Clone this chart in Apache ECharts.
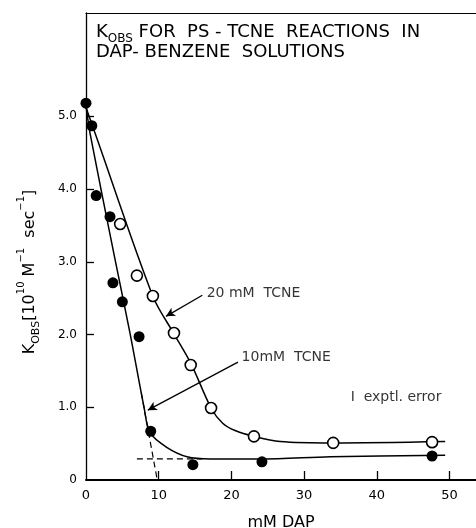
<!DOCTYPE html>
<html>
<head>
<meta charset="utf-8">
<script src="https://cdn.jsdelivr.net/npm/echarts@6/dist/echarts.min.js"></script>
<style>html,body{margin:0;padding:0;background:#fff}#c{width:476px;height:528px}</style>
</head>
<body>
<div id="c"></div>
<script>
// ---- data ----
const filled10X = [0, 0.8, 1.4, 3.3, 3.7, 5.0, 7.3, 8.9, 14.7, 24.2, 47.6];
const filled10Y = [5.18, 4.87, 3.91, 3.62, 2.71, 2.45, 1.97, 0.67, 0.21, 0.25, 0.33];
const open20X = [4.7, 7.0, 9.2, 12.1, 14.4, 17.2, 23.1, 34.0, 47.6];
const open20Y = [3.52, 2.81, 2.53, 2.02, 1.58, 0.99, 0.60, 0.51, 0.52];
const curve20X = [0, 1.24, 9.22, 12.1, 14.44, 17.2, 18.8, 20.5, 23.1, 26.7, 34, 49.4];
const curve20Y = [5.12, 4.77, 2.52, 2.01, 1.60, 0.99, 0.78, 0.68, 0.60, 0.53, 0.51, 0.53];
const curve10X = [0, 0.55, 4.0, 6.05, 7.98, 8.8, 11.1, 13.9, 17.1, 24.2, 33.6, 49.4];
const curve10Y = [5.15, 4.77, 3.03, 2.02, 1.0, 0.65, 0.45, 0.32, 0.29, 0.29, 0.32, 0.34];
const dashVX = [7.6, 9.8];
const dashVY = [1.2, 0.0];
const dashHX = [7.0, 16.0];
const dashHY = [0.29, 0.29];
const xTicks = [10, 20, 30, 40, 50];
const xLabels = [0, 10, 20, 30, 40, 50];
const yTicks = [1, 2, 3, 4, 5];
const yLabels = [0, 1, 2, 3, 4, 5];
const arrow20 = [[16.0, 2.54], [11.0, 2.25]];
const arrow10 = [[20.9, 1.62], [8.5, 0.96]];
const notes = [
  { name: '20 mM  TCNE', x: 16.6, y: 2.57 },
  { name: '10mM  TCNE', x: 21.4, y: 1.68 },
  { name: 'I  exptl. error', x: 36.4, y: 1.14 }
];

const zip = (xs, ys) => xs.map((x, i) => [x, ys[i]]);
const FONT = 'DejaVu Sans';
const INK = '#000';
const chart = echarts.init(document.getElementById('c'), null, { renderer: 'canvas' });
const XMAX = 53.64, YMAX = 6.42;

chart.setOption({
  animation: false,
  backgroundColor: '#fff',
  grid: { left: 86, right: 0, top: 13, bottom: 48, containLabel: false, outerBoundsMode: 'none' },
  xAxis: [{
    type: 'value', min: 0, max: XMAX,
    splitLine: { show: false },
    axisLine: { lineStyle: { color: INK, width: 2 } },
    axisTick: { inside: true, length: 9, customValues: xTicks, lineStyle: { color: INK, width: 1.3 } },
    axisLabel: { customValues: xLabels, margin: 9, fontFamily: FONT, fontSize: 13, color: INK },
    name: 'mM DAP', nameLocation: 'middle', nameGap: 35,
    nameTextStyle: { fontFamily: FONT, fontSize: 16, color: INK }
  }, {
    type: 'value', min: 0, max: XMAX, position: 'top',
    splitLine: { show: false },
    axisLine: { lineStyle: { color: INK, width: 1.2 } },
    axisTick: { show: false }, axisLabel: { show: false }
  }],
  yAxis: {
    type: 'value', min: 0, max: YMAX,
    splitLine: { show: false },
    axisLine: { lineStyle: { color: INK, width: 1.3 } },
    axisTick: { inside: true, length: 8, customValues: yTicks, lineStyle: { color: INK, width: 1.3 } },
    axisLabel: {
      customValues: yLabels, margin: 9, fontFamily: FONT, fontSize: 12, color: INK,
      formatter: v => v === 0 ? '0' : v.toFixed(1)
    }
  },
  graphic: [{
    type: 'text', left: 96, top: 23,
    style: {
      text: '{k|K}{s|OBS}{t| FOR  PS - TCNE  REACTIONS  IN}\n{t|DAP- BENZENE  SOLUTIONS}',
      fill: INK,
      rich: {
        k: { fontFamily: FONT, fontSize: 18, lineHeight: 20, verticalAlign: 'bottom' },
        s: { fontFamily: FONT, fontSize: 12, lineHeight: 20, verticalAlign: 'bottom', padding: [0, 0, -4, 0] },
        t: { fontFamily: FONT, fontSize: 18, lineHeight: 20, verticalAlign: 'bottom' }
      }
    }
  }, {
    type: 'text', x: 27, y: 272, rotation: Math.PI / 2,
    style: {
      text: '{k|K}{s|OBS}{n|[10}{p|10}{n| M}{p|−1}{n|  sec}{p|−1}{n|]}',
      align: 'center', verticalAlign: 'middle', fill: INK,
      rich: {
        k: { fontFamily: FONT, fontSize: 16, lineHeight: 22, verticalAlign: 'bottom' },
        n: { fontFamily: FONT, fontSize: 16, lineHeight: 22, verticalAlign: 'bottom' },
        s: { fontFamily: FONT, fontSize: 11, lineHeight: 22, verticalAlign: 'bottom', padding: [0, 0, -4, 0] },
        p: { fontFamily: FONT, fontSize: 10, lineHeight: 22, verticalAlign: 'top' }
      }
    }
  }],
  series: [{
    type: 'line', data: zip(curve20X, curve20Y), smooth: 0.3,
    showSymbol: false, symbol: 'none', lineStyle: { color: INK, width: 1.5 }, z: 2,
    markLine: {
      silent: true, symbol: ['none', 'arrow'], symbolSize: [7, 9], label: { show: false },
      lineStyle: { color: INK, width: 1.3, type: 'solid' },
      data: [
        [{ coord: arrow20[0] }, { coord: arrow20[1] }],
        [{ coord: arrow10[0] }, { coord: arrow10[1] }]
      ]
    }
  }, {
    type: 'line', data: zip(curve10X, curve10Y), smooth: 0.3,
    showSymbol: false, symbol: 'none', lineStyle: { color: INK, width: 1.5 }, z: 2
  }, {
    type: 'line', data: zip(dashVX, dashVY), symbol: 'none',
    lineStyle: { color: INK, width: 1.2, type: [6, 4] }, z: 2
  }, {
    type: 'line', data: zip(dashHX, dashHY), symbol: 'none',
    lineStyle: { color: INK, width: 1.2, type: [6, 4] }, z: 2
  }, {
    type: 'scatter', data: zip(open20X, open20Y), symbol: 'circle', symbolSize: 11,
    itemStyle: { color: '#fff', borderColor: INK, borderWidth: 1.6, opacity: 1 }, z: 3
  }, {
    type: 'scatter', data: zip(filled10X, filled10Y), symbol: 'circle', symbolSize: 11,
    itemStyle: { color: INK, opacity: 1 }, z: 3
  }, {
    type: 'scatter', symbolSize: 0, silent: true,
    data: notes.map(n => ({ name: n.name, value: [n.x, n.y] })),
    label: {
      show: true, position: 'right', distance: 0, formatter: p => p.name,
      fontFamily: FONT, fontSize: 14, color: INK
    }
  }]
});
</script>
</body>
</html>
